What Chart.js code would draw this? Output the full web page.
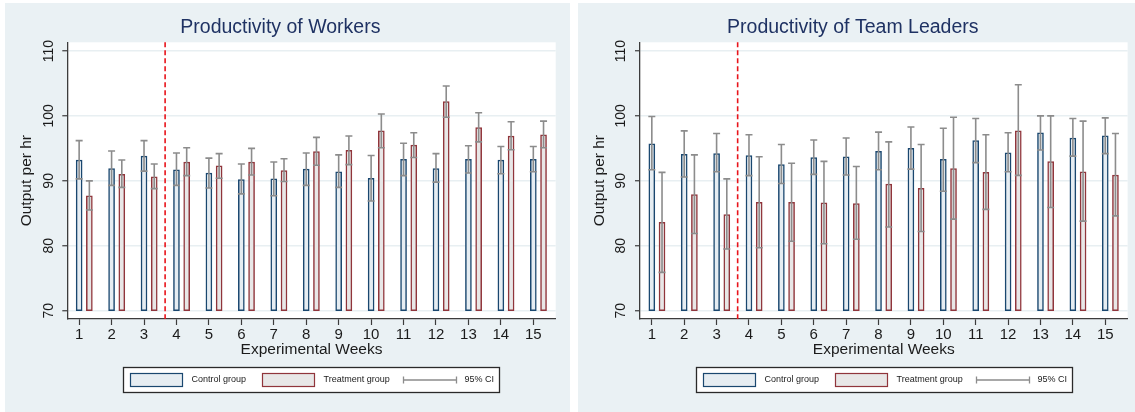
<!DOCTYPE html>
<html>
<head>
<meta charset="utf-8">
<script src="https://cdn.jsdelivr.net/npm/chart.js@4.4.1/dist/chart.umd.min.js"></script>
<style>
  html, body { margin: 0; padding: 0; background: #fff; }
  body { width: 1135px; height: 412px; position: relative; overflow: hidden; }
  .panel { position: absolute; top: 3px; height: 409px; background: #eaf1f4; }
  #p1 { left: 5px; width: 565px; }
  #p2 { left: 578px; width: 557px; }
  canvas { display: block; }
</style>
</head>
<body>
<div class="panel" id="p1"><canvas id="c1" width="565" height="409"></canvas></div>
<div class="panel" id="p2"><canvas id="c2" width="557" height="409"></canvas></div>
<script>
/* Stata-artige Balken mit 95%-KI, zwei Panels */

const weeks = [1, 2, 3, 4, 5, 6, 7, 8, 9, 10, 11, 12, 13, 14, 15];
const yTicks = [70, 80, 90, 100, 110];
const legendLabels = ["Control group", "Treatment group", "95% CI"];

// Arbeiter
const workersControl   = [93.2, 91.9, 93.8, 91.7, 91.2, 90.2, 90.3, 91.8, 91.4, 90.4, 93.3, 91.9, 93.3, 93.2, 93.3];
const workersControlLo = [90.3, 89.3, 91.5, 89.3, 88.9, 88.0, 87.7, 89.3, 89.0, 86.9, 90.8, 89.8, 91.2, 91.1, 91.4];
const workersControlHi = [96.2, 94.6, 96.2, 94.3, 93.5, 92.6, 92.9, 94.3, 94.0, 93.9, 95.8, 94.2, 95.4, 95.3, 95.3];
const workersTreat     = [87.7, 91.0, 90.6, 92.9, 92.3, 92.9, 91.6, 94.5, 94.7, 97.7, 95.5, 102.2, 98.2, 96.9, 97.1];
const workersTreatLo   = [85.5, 89.0, 88.8, 90.8, 90.4, 90.9, 89.9, 92.4, 92.5, 95.1, 93.6, 99.8, 96.0, 94.8, 95.1];
const workersTreatHi   = [90.0, 93.2, 92.6, 95.1, 94.2, 95.0, 93.4, 96.7, 96.9, 100.3, 97.4, 104.6, 100.5, 99.1, 99.2];

// Teamleiter
const leadersControl   = [95.7, 94.1, 94.2, 93.9, 92.5, 93.6, 93.7, 94.55, 95.0, 93.3, 96.2, 94.3, 97.4, 96.6, 96.95];
const leadersControlLo = [91.7, 90.6, 91.4, 90.8, 89.6, 91.0, 90.9, 91.7, 91.8, 88.4, 92.8, 91.4, 94.75, 93.8, 94.2];
const leadersControlHi = [99.9, 97.7, 97.3, 97.1, 95.6, 96.3, 96.6, 97.5, 98.3, 98.1, 99.6, 97.4, 100.0, 99.6, 99.7];
const leadersTreat     = [83.6, 87.9, 84.8, 86.7, 86.7, 86.6, 86.5, 89.5, 88.85, 91.9, 91.3, 97.7, 92.95, 91.4, 90.9];
const leadersTreatLo   = [75.9, 81.9, 79.5, 79.7, 80.7, 80.3, 81.0, 82.9, 82.2, 84.1, 85.6, 90.85, 85.9, 83.8, 84.6];
const leadersTreatHi   = [91.3, 94.0, 90.3, 93.7, 92.7, 93.0, 92.2, 96.0, 95.6, 99.8, 97.1, 104.8, 100.0, 99.2, 97.3];

const BAR_BASE = 70;
const TREATMENT_START = 3.65;   // rote Linie zwischen Woche 3 und 4
const TRT_SHIFT = 0.315;        // Treatment-Balken rechts neben Control
const X_MIN = 0.635, X_MAX = 15.69;
const Y_MIN = 68.72, Y_MAX = 111.34;

const FONT = "'Liberation Sans', Arial, Helvetica, sans-serif";
const TEXT = "#1b1b1b", AXIS = "#3c3c3c", GRIDC = "#e8eff2", TITLE = "#1f3263";
const NAVY = "#1a476f", MAROON = "#90353b", CI_GRAY = "#8c8c8c";
const CTRL_FILL = "#e6edf2", TRT_FILL = "#e8e7e7";

Chart.defaults.font.family = FONT;
Chart.defaults.color = TEXT;
Chart.defaults.animation = false;

/* weisser Plotbereich auf farbigem Panel */
const plotBg = {
  id: "plotBg",
  beforeDraw(chart) {
    const { ctx, chartArea: a } = chart;
    ctx.save();
    ctx.fillStyle = "#fff";
    ctx.fillRect(a.left, a.top, a.right - a.left, a.bottom - a.top);
    ctx.restore();
  },
};

/* 95%-KI als rcap */
const ciBars = {
  id: "ciBars",
  afterDatasetsDraw(chart) {
    const ctx = chart.ctx, ys = chart.scales.y;
    ctx.save();
    ctx.strokeStyle = CI_GRAY;
    ctx.lineWidth = 1.6;
    chart.data.datasets.forEach((ds, i) => {
      if (!ds.ciLo) return;
      chart.getDatasetMeta(i).data.forEach((bar, j) => {
        const x = bar.x;
        const lo = ys.getPixelForValue(ds.ciLo[j]);
        const hi = ys.getPixelForValue(ds.ciHi[j]);
        ctx.beginPath();
        ctx.moveTo(x, lo); ctx.lineTo(x, hi);
        ctx.moveTo(x - 3.5, lo); ctx.lineTo(x + 3.5, lo);
        ctx.moveTo(x - 3.5, hi); ctx.lineTo(x + 3.5, hi);
        ctx.stroke();
      });
    });
    ctx.restore();
  },
};

/* gestrichelte Linie: Beginn Treatment */
const startLine = {
  id: "startLine",
  afterDatasetsDraw(chart, args, opts) {
    const { ctx, chartArea: a } = chart;
    const x = chart.scales.x.getPixelForValue(opts.week);
    ctx.save();
    ctx.strokeStyle = "#e8141b";
    ctx.lineWidth = 1.6;
    ctx.setLineDash([5, 3]);
    ctx.beginPath();
    ctx.moveTo(x, a.top);
    ctx.lineTo(x, a.bottom);
    ctx.stroke();
    ctx.restore();
  },
};

/* Stata dreht die Y-Beschriftung um 90 Grad */
const yTickLabels = {
  id: "yTickLabels",
  afterDraw(chart) {
    const { ctx, chartArea: a } = chart;
    const ys = chart.scales.y;
    ctx.save();
    ctx.fillStyle = TEXT;
    ctx.font = "14px " + FONT;
    ctx.textAlign = "center";
    ctx.textBaseline = "middle";
    ys.ticks.forEach((t) => {
      ctx.save();
      ctx.translate(a.left - 18.5, ys.getPixelForValue(t.value));
      ctx.rotate(-Math.PI / 2);
      ctx.fillText(String(t.value), 0, 0);
      ctx.restore();
    });
    ctx.restore();
  },
};

/* Legendenkasten unter der Achse */
const groupLegend = {
  id: "groupLegend",
  afterDraw(chart) {
    const { ctx, chartArea: a } = chart;
    const w = 376, h = 25;
    const left = Math.round((a.left + a.right) / 2 - w / 2) + 0.5;
    const top = 364.5;
    ctx.save();
    ctx.fillStyle = "#fff";
    ctx.fillRect(left, top, w, h);
    ctx.strokeStyle = "#2a2a2a";
    ctx.lineWidth = 1.3;
    ctx.strokeRect(left, top, w, h);

    const sy = top + 6, sh = 13;
    ctx.lineWidth = 1.2;
    ctx.fillStyle = CTRL_FILL; ctx.fillRect(left + 7, sy, 52, sh);
    ctx.strokeStyle = NAVY; ctx.strokeRect(left + 7, sy, 52, sh);
    ctx.fillStyle = TRT_FILL; ctx.fillRect(left + 139, sy, 52, sh);
    ctx.strokeStyle = MAROON; ctx.strokeRect(left + 139, sy, 52, sh);

    const cy = top + h / 2;
    ctx.strokeStyle = CI_GRAY;
    ctx.lineWidth = 1.3;
    ctx.beginPath();
    ctx.moveTo(left + 280, cy); ctx.lineTo(left + 333, cy);
    ctx.moveTo(left + 280, cy - 3.5); ctx.lineTo(left + 280, cy + 3.5);
    ctx.moveTo(left + 333, cy - 3.5); ctx.lineTo(left + 333, cy + 3.5);
    ctx.stroke();

    ctx.fillStyle = TEXT;
    ctx.font = "9px " + FONT;
    ctx.textAlign = "left";
    ctx.textBaseline = "middle";
    ctx.fillText(legendLabels[0], left + 68, cy);
    ctx.fillText(legendLabels[1], left + 200, cy);
    ctx.fillText(legendLabels[2], left + 341, cy);
    ctx.restore();
  },
};

function buildChart(canvasId, title, ctrl, ctrlLo, ctrlHi, trt, trtLo, trtHi, yAxisWidth, rightPad) {
  return new Chart(document.getElementById(canvasId), {
    type: "bar",
    data: {
      datasets: [
        {
          label: legendLabels[0],
          data: weeks.map((w, i) => ({ x: w, y: [BAR_BASE, ctrl[i]] })),
          backgroundColor: CTRL_FILL,
          borderColor: NAVY,
          ciLo: ctrlLo, ciHi: ctrlHi,
        },
        {
          label: legendLabels[1],
          data: weeks.map((w, i) => ({ x: w + TRT_SHIFT, y: [BAR_BASE, trt[i]] })),
          backgroundColor: TRT_FILL,
          borderColor: MAROON,
          ciLo: trtLo, ciHi: trtHi,
        },
      ],
    },
    options: {
      responsive: false,
      animation: false,
      layout: { padding: { left: 0, right: rightPad, top: 0, bottom: 53 } },
      datasets: { bar: { grouped: false, barThickness: 6, borderWidth: 1.5, borderSkipped: false } },
      plugins: {
        legend: { display: false },
        tooltip: { enabled: false },
        title: {
          display: true, text: title, color: TITLE,
          font: { size: 19.5, weight: "normal" },
          padding: { top: 13, bottom: 2.9 },
        },
        startLine: { week: TREATMENT_START },
      },
      scales: {
        x: {
          type: "linear", min: X_MIN, max: X_MAX, offset: false,
          afterBuildTicks: (s) => { s.ticks = weeks.map((v) => ({ value: v })); },
          afterFit: (s) => { s.height = 40; },
          grid: { offset: false, drawOnChartArea: false, drawTicks: true, tickLength: 6, tickColor: AXIS, tickWidth: 1.2 },
          border: { color: AXIS, width: 1.3 },
          ticks: { autoSkip: false, maxRotation: 0, padding: 1, font: { size: 15 }, color: TEXT },
          title: { display: true, text: "Experimental Weeks", font: { size: 15.5 }, color: TEXT, padding: { top: 0, bottom: 0 } },
        },
        y: {
          type: "linear", min: Y_MIN, max: Y_MAX,
          afterBuildTicks: (s) => { s.ticks = yTicks.map((v) => ({ value: v })); },
          afterFit: (s) => { s.width = yAxisWidth; },
          grid: { color: GRIDC, lineWidth: 1.5, tickLength: 5, tickColor: AXIS, tickWidth: 1.2 },
          border: { color: AXIS, width: 1.3 },
          ticks: { display: false },
          title: { display: true, text: "Output per hr", font: { size: 15.5 }, color: TEXT, padding: { top: 12.7, bottom: 0 } },
        },
      },
    },
    plugins: [plotBg, ciBars, startLine, yTickLabels, groupLegend],
  });
}

buildChart("c1", "Productivity of Workers",
  workersControl, workersControlLo, workersControlHi,
  workersTreat, workersTreatLo, workersTreatHi, 62.3, 14.3);
buildChart("c2", "Productivity of Team Leaders",
  leadersControl, leadersControlLo, leadersControlHi,
  leadersTreat, leadersTreatLo, leadersTreatHi, 62, 7.4);
</script>
</body>
</html>
